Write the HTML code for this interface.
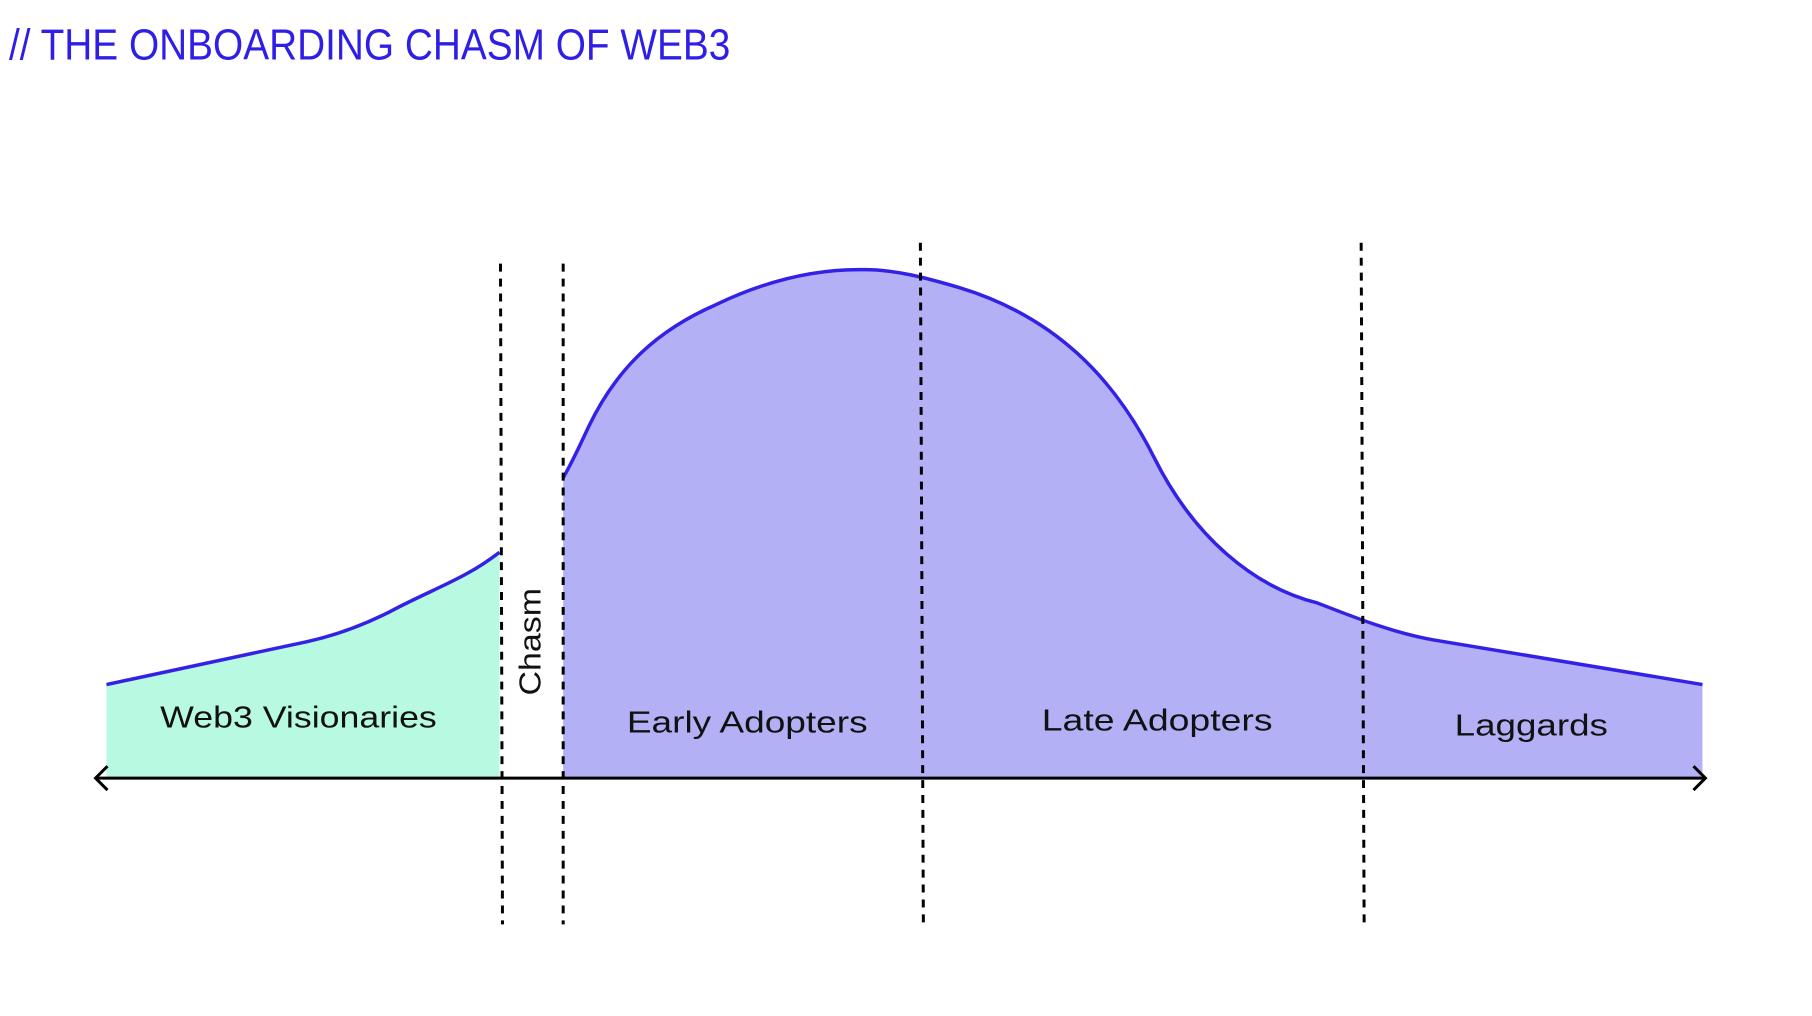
<!DOCTYPE html>
<html><head><meta charset="utf-8"><style>
html,body{margin:0;padding:0;background:#fff;}
svg{display:block;}
</style></head><body>
<svg width="1812" height="1016" viewBox="0 0 1812 1016" xmlns="http://www.w3.org/2000/svg">
<rect width="1812" height="1016" fill="#fff"/>
<g transform="scale(0.995)">
<text x="9" y="60" font-family="Liberation Sans, sans-serif" font-size="44" fill="#2f1fe6" textLength="725" lengthAdjust="spacingAndGlyphs">// THE ONBOARDING CHASM OF WEB3</text>

<path d="M107,688 L308,645 C345,637 375,624 401,610 C440,590 470,580 502,555 L502,782 L107,782 Z" fill="#b8f9e2"/>
<path d="M107,688 L308,645 C345,637 375,624 401,610 C440,590 470,580 502,555" fill="none" stroke="#3322e6" stroke-width="3.5"/>

<path d="M566,480 C575,465 583,447 592,428 C620,370 660,332 720,306 C770,282 820,270 869,271 C900,271 930,279 964,289 C1060,318 1120,380 1160,460 C1200,540 1260,590 1324,606 C1360,620 1400,636 1440,643 L1711,688 L1711,782 L566,782 Z" fill="#b3b0f6"/>
<path d="M566,480 C575,465 583,447 592,428 C620,370 660,332 720,306 C770,282 820,270 869,271 C900,271 930,279 964,289 C1060,318 1120,380 1160,460 C1200,540 1260,590 1324,606 C1360,620 1400,636 1440,643 L1711,688" fill="none" stroke="#3322e6" stroke-width="3.5"/>

<line x1="96" y1="782" x2="1714" y2="782" stroke="#000" stroke-width="3"/>
<polyline points="108,770 96,782 108,794" fill="none" stroke="#000" stroke-width="3"/>
<polyline points="1702,770 1714,782 1702,794" fill="none" stroke="#000" stroke-width="3"/>

<g stroke="#000" stroke-width="3" stroke-dasharray="8,7">
<line x1="503" y1="265" x2="505" y2="929"/>
<line x1="566" y1="265" x2="566" y2="929"/>
<line x1="925" y1="244" x2="928" y2="929"/>
<line x1="1368" y1="244" x2="1371" y2="929"/>
</g>

<g font-family="Liberation Sans, sans-serif" font-size="31" fill="#111" text-anchor="middle">
<text x="300" y="731" textLength="278" lengthAdjust="spacingAndGlyphs">Web3 Visionaries</text>
<text x="751" y="736" textLength="242" lengthAdjust="spacingAndGlyphs">Early Adopters</text>
<text x="1163" y="734" textLength="232" lengthAdjust="spacingAndGlyphs">Late Adopters</text>
<text x="1539" y="739" textLength="154" lengthAdjust="spacingAndGlyphs">Laggards</text>
<text transform="translate(543,645) rotate(-90)" x="0" y="0" textLength="108" lengthAdjust="spacingAndGlyphs">Chasm</text>
</g>
</g>
</svg>
</body></html>
